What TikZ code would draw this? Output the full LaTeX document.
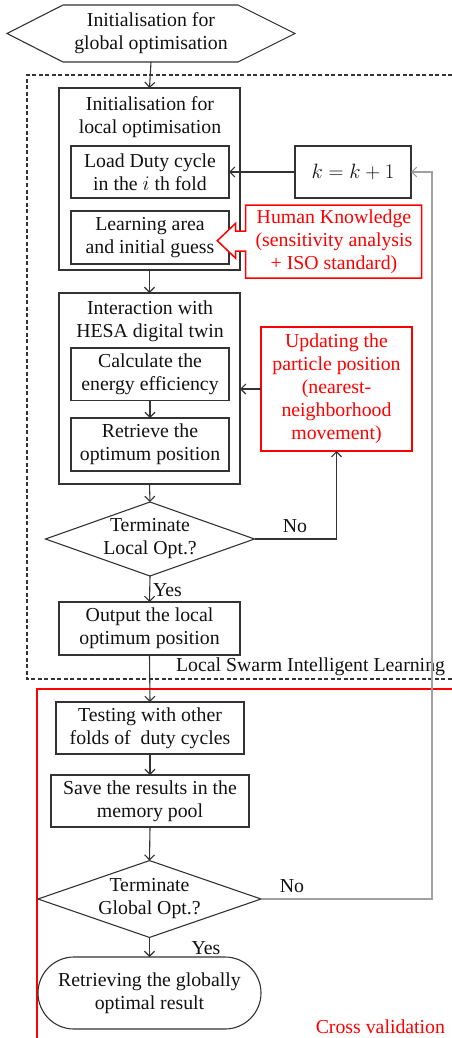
\documentclass[tikz,border=0pt]{standalone}
\usepackage{fontspec}
\setmainfont{Liberation Serif}
\usetikzlibrary{arrows.meta,shapes.geometric}
\definecolor{ln}{HTML}{333333}
\definecolor{gl}{HTML}{A0A0A0}
\definecolor{rd}{HTML}{FF0000}
\definecolor{tx}{HTML}{111111}
\begin{document}
\begin{tikzpicture}[x=1pt,y=-1pt,
  every node/.style={font=\fontsize{19.8}{23}\selectfont, inner sep=0pt, outer sep=0pt, text=tx},
  box/.style={draw=ln, line width=1.1pt, align=center},
  txt/.style={align=center},
  arr/.style={draw=ln, line width=1.1pt, -{Straight Barb[length=5pt,width=10pt]}},
  garr/.style={draw=gl, line width=1.1pt, -{Straight Barb[length=5pt,width=10pt]}},
  redtxt/.style={text=rd, align=center},
  dia/.style={draw=ln, line width=1.1pt, diamond, align=center, aspect=2.8}
]
\useasboundingbox (0,0) rectangle (451,1038);

% group frames
\draw[ln, line width=1.1pt, dash pattern=on 4pt off 2.5pt] (452,75) -- (27,75) -- (27,679) -- (452,679);
\draw[rd, line width=2pt] (453,689) -- (37,689) -- (37,1040);

% start hexagon
\node[minimum width=288pt, minimum height=57pt, txt] (hex) at (151,33.5) {Initialisation for\\global optimisation};
\draw[ln, line width=1.1pt] (hex.west) -- ([xshift=56pt]hex.north west) -- ([xshift=-57pt]hex.north east) -- (hex.east) -- ([xshift=-57pt]hex.south east) -- ([xshift=56pt]hex.south west) -- cycle;

% local initialisation block
\node[box, minimum width=181pt, minimum height=182pt] (b1) at (149.5,179) {};
\node[txt] (t1) at (150,117) {Initialisation for\\local optimisation};
\node[box, minimum width=158pt, minimum height=52pt] (load) at (150,172) {Load Duty cycle\\in the $i$ th fold};
\node[box, minimum width=158pt, minimum height=53pt] (learn) at (150,237.5) {Learning area\\and initial guess};
\node[box, minimum width=116pt, minimum height=52pt] (kbox) at (353,172) {$k = k + 1$};

% human knowledge callout
\draw[rd, line width=1.5pt, fill=white] (245.7,205) -- (421.7,205) -- (421.7,278) -- (245.7,278) -- (245.7,251) -- (235.7,251) -- (235.7,258.3) -- (217.3,240.7) -- (235.7,223.3) -- (235.7,231) -- (245.7,231) -- cycle;
\node[redtxt] (hk) at (334,241.5) {Human Knowledge\\(sensitivity analysis\\+ ISO standard)};

% interaction block
\node[box, minimum width=181pt, minimum height=191pt] (b2) at (149.5,388.5) {};
\node[txt] (t2) at (150,321.5) {Interaction with\\HESA digital twin};
\node[box, minimum width=158pt, minimum height=52.7pt] (calc) at (150,374.3) {Calculate the\\energy efficiency};
\node[box, minimum width=158pt, minimum height=53pt] (retr) at (150,444.5) {Retrieve the\\optimum position};
\node[draw=rd, line width=2.5pt, minimum width=151pt, minimum height=124pt, redtxt] (upd) at (336.5,389) {Updating the\\particle position\\(nearest-\\neighborhood\\movement)};

% local decision
\node[dia, minimum width=209pt, minimum height=74pt] (d1) at (150,539) {Terminate\\Local Opt.?};
\node[box, minimum width=181pt, minimum height=53pt] (out) at (149.5,628.5) {Output the local\\optimum position};
\node[anchor=base east] (lsil) at (445,671) {Local Swarm Intelligent Learning};

% cross validation
\node[box, minimum width=188pt, minimum height=52pt] (test) at (150,728) {Testing with other\\folds of\ \ duty cycles};
\node[box, minimum width=198pt, minimum height=52pt] (save) at (150,801) {Save the results in the\\memory pool};
\node[dia, minimum width=223pt, minimum height=74pt] (d2) at (149.5,899) {Terminate\\Global Opt.?};
\node[box, minimum width=223pt, minimum height=72pt, rounded corners=36pt] (term) at (149.5,993) {Retrieving the globally\\optimal result};
\node[anchor=base east, text=rd] (cv) at (445,1033) {Cross validation};

% connectors
\draw[arr] (hex.south) -- (b1.north);
\draw[arr] (kbox.west) -- (load.east);
\draw[arr] (b1.south) -- (b2.north);
\draw[arr] (calc.south) -- (retr.north);
\draw[arr] (upd.west) -- (upd.west -| b2.east);
\draw[arr] (b2.south) -- (d1.north);
\draw[arr] (d1.east) -| (upd.south);
\node (no1) at (295,526) {No};
\draw[arr] (d1.south) -- (out.north);
\node[anchor=west] (yes1) at (153,590) {Yes};
\draw[arr] (out.south) -- (test.north);
\draw[arr] (test.south) -- (save.north);
\draw[arr] (save.south) -- (d2.north);
\coordinate (gc) at (432,899);
\draw[garr] (d2.east) -- (gc) |- (kbox.east);
\node (no2) at (292,886) {No};
\draw[arr] (d2.south) -- (term.north);
\node (yes2) at (206,948) {Yes};
\end{tikzpicture}
\end{document}
